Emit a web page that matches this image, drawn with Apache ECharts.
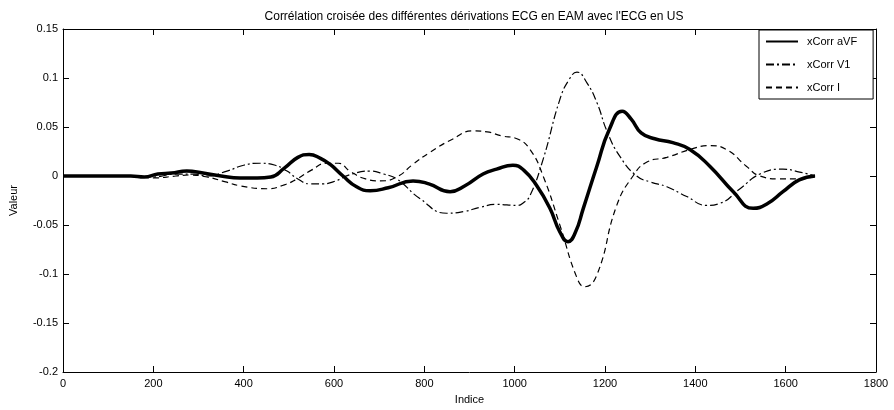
<!DOCTYPE html>
<html>
<head>
<meta charset="utf-8">
<script src="https://cdn.jsdelivr.net/npm/echarts@6/dist/echarts.min.js"></script>
<style>
html,body{margin:0;padding:0;background:#fff;}
#chart{width:894px;height:410px;}
</style>
</head>
<body>
<div id="chart"></div>
<script>
var title = "Corrélation croisée des différentes dérivations ECG en EAM avec l'ECG en US";
var seriesNames = ["xCorr aVF", "xCorr V1", "xCorr I"];

var aVFx = [0,100,150,180,210,240,274,310,350,392,430,460,490,520,545,570,591,620,650,680,720,775,810,857,890,930,960,996,1020,1049,1078,1100,1118,1134,1152,1182,1210,1238,1258,1280,1310,1350,1388,1432,1484,1528,1560,1594,1630,1665];
var aVFy = [0,0,0,-0.001,0.002,0.003,0.005,0.003,0,-0.002,-0.002,-0.001,0.008,0.019,0.022,0.018,0.012,0.0,-0.011,-0.015,-0.012,-0.005,-0.008,-0.016,-0.010,0.002,0.007,0.011,0.006,-0.010,-0.033,-0.057,-0.067,-0.058,-0.033,0.010,0.048,0.066,0.058,0.044,0.038,0.034,0.027,0.010,-0.016,-0.033,-0.028,-0.016,-0.004,0];

var v1x = [0,150,200,250,290,319,363,400,436,470,496,520,547,575,598,640,680,710,739,790,850,890,923,960,1005,1020,1034,1063,1100,1120,1138,1160,1182,1205,1233,1270,1300,1337,1381,1425,1454,1499,1543,1594,1631,1665];
var v1y = [0,0,-0.001,0.002,0.002,0,0.005,0.011,0.013,0.011,0.005,-0.003,-0.008,-0.008,-0.006,0.002,0.005,0.002,-0.003,-0.023,-0.038,-0.036,-0.032,-0.029,-0.030,-0.027,-0.020,0.017,0.078,0.098,0.106,0.095,0.075,0.045,0.020,0,-0.006,-0.011,-0.021,-0.030,-0.028,-0.013,0.002,0.007,0.004,0];

var ix = [0,150,200,250,280,319,360,392,452,490,518,550,584,610,635,670,702,739,775,812,860,908,939,970,1005,1034,1063,1100,1138,1155,1182,1226,1262,1292,1337,1388,1432,1469,1513,1543,1587,1631,1665];
var iy = [0,0,-0.002,0,0.001,-0.001,-0.006,-0.010,-0.013,-0.009,-0.003,0.006,0.013,0.013,0.005,-0.003,-0.005,-0.001,0.012,0.024,0.037,0.046,0.045,0.041,0.038,0.027,0,-0.050,-0.104,-0.113,-0.101,-0.030,0,0.014,0.019,0.027,0.031,0.027,0.010,0,-0.003,-0.003,0];

var xMin = 0, xMax = 1800, xStep = 200;
var yMin = -0.2, yMax = 0.15, yStep = 0.05;

function zip(a, b){ return a.map(function(v,i){ return [v, b[i]]; }); }

var font = 'Liberation Sans, Arial, sans-serif';
var chart = echarts.init(document.getElementById('chart'), null, {renderer:'canvas'});
function axisCommon(){
  return {
    axisLine:{show:true, onZero:false, lineStyle:{color:'#000', width:1}},
    axisTick:{show:true, inside:true, length:6, lineStyle:{color:'#000', width:1}},
    splitLine:{show:false}
  };
}
chart.setOption({
  animation:false,
  backgroundColor:'#fff',
  title:{text:title, left:469, textAlign:'center', top:6,
    textStyle:{fontFamily:font, fontSize:12, fontWeight:'normal', color:'#000'}},
  grid:{left:63, right:18, top:29, bottom:36, containLabel:false},
  legend:{
    orient:'vertical', left:759, top:30,
    data:seriesNames,
    itemWidth:32, itemHeight:10, itemGap:12,
    padding:[6,16,6,6],
    borderColor:'#000', borderWidth:1, backgroundColor:'#fff',
    itemStyle:{opacity:0},
    textStyle:{fontFamily:font, fontSize:11, color:'#000', padding:[0,0,0,4]}
  },
  xAxis:[
    Object.assign(axisCommon(), {type:'value', min:xMin, max:xMax, interval:xStep, position:'bottom',
      name:'Indice', nameLocation:'middle', nameGap:22,
      nameTextStyle:{fontFamily:font, fontSize:11, color:'#000'},
      axisLabel:{fontFamily:font, fontSize:11, color:'#000', margin:6,
        formatter:function(v){ return String(v); }}}),
    Object.assign(axisCommon(), {type:'value', min:xMin, max:xMax, interval:xStep, position:'top',
      axisLabel:{show:false}})
  ],
  yAxis:[
    Object.assign(axisCommon(), {type:'value', min:yMin, max:yMax, interval:yStep, position:'left',
      name:'Valeur', nameLocation:'middle', nameGap:44, nameRotate:90,
      nameTextStyle:{fontFamily:font, fontSize:11, color:'#000'},
      axisLabel:{fontFamily:font, fontSize:11, color:'#000', margin:5,
        formatter:function(v){ return String(Math.round(v*100)/100); }}}),
    Object.assign(axisCommon(), {type:'value', min:yMin, max:yMax, interval:yStep, position:'right',
      axisLabel:{show:false}})
  ],
  series:[
    {name:seriesNames[0], type:'line', data:zip(aVFx,aVFy), showSymbol:false, symbol:'none',
      smooth:0.5, lineStyle:{color:'#000', width:3.5}, itemStyle:{color:'#000'}},
    {name:seriesNames[1], type:'line', data:zip(v1x,v1y), showSymbol:false, symbol:'none',
      smooth:0.5, lineStyle:{color:'#000', width:1.2, type:[8,3,2,3]}, itemStyle:{color:'#000'}},
    {name:seriesNames[2], type:'line', data:zip(ix,iy), showSymbol:false, symbol:'none',
      smooth:0.5, lineStyle:{color:'#000', width:1.2, type:[6,4]}, itemStyle:{color:'#000'}}
  ]
});
</script>
</body>
</html>
